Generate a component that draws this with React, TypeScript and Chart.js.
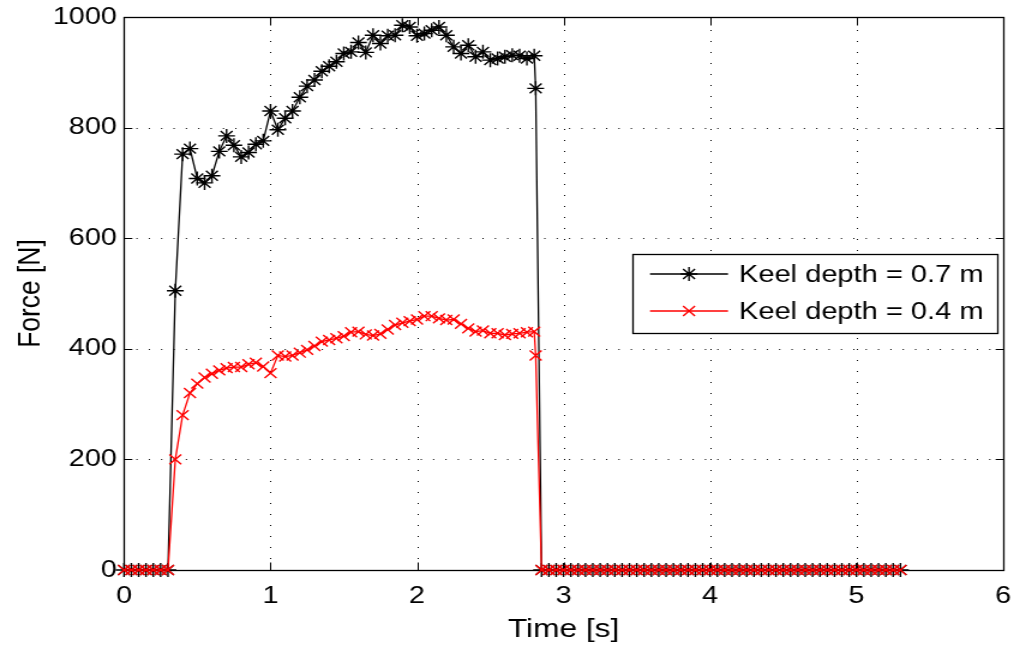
import { useEffect, useRef } from 'react';
import { Chart, registerables } from 'chart.js';

Chart.register(...registerables);

// ---- data ----
const timeS = [
  0, 0.05, 0.1, 0.15, 0.2, 0.25, 0.3, 0.35, 0.4, 0.45, 0.5, 0.55, 0.6, 0.65, 0.7, 0.75, 0.8, 0.85, 0.9, 0.95,
  1, 1.05, 1.1, 1.15, 1.2, 1.25, 1.3, 1.35, 1.4, 1.45, 1.5, 1.55, 1.6, 1.65, 1.7, 1.75, 1.8, 1.85, 1.9, 1.95,
  2, 2.05, 2.1, 2.15, 2.2, 2.25, 2.3, 2.35, 2.4, 2.45, 2.5, 2.55, 2.6, 2.65, 2.7, 2.75, 2.8, 2.81,
  2.85, 2.9, 2.95, 3, 3.05, 3.1, 3.15, 3.2, 3.25, 3.3, 3.35, 3.4, 3.45, 3.5, 3.55, 3.6, 3.65, 3.7, 3.75, 3.8, 3.85, 3.9, 3.95,
  4, 4.05, 4.1, 4.15, 4.2, 4.25, 4.3, 4.35, 4.4, 4.45, 4.5, 4.55, 4.6, 4.65, 4.7, 4.75, 4.8, 4.85, 4.9, 4.95,
  5, 5.05, 5.1, 5.15, 5.2, 5.25, 5.3,
];

const keelDepth07 = [
  0, 0, 0, 0, 0, 0, 0,
  505, 752, 762, 708, 700, 713, 757, 785, 768, 747, 755, 770, 776,
  830, 796, 817, 830, 855, 875, 886, 902, 911, 919, 934, 937, 954, 936, 967, 952, 966, 967, 985, 982,
  966, 970, 976, 982, 967, 946, 934, 949, 928, 937, 922, 925, 928, 931, 930, 925, 930,
  871,
  0, 0, 0, 0, 0, 0, 0, 0, 0, 0, 0, 0, 0, 0, 0, 0, 0, 0, 0, 0, 0, 0, 0, 0, 0,
  0, 0, 0, 0, 0, 0, 0, 0, 0, 0, 0, 0, 0, 0, 0, 0, 0, 0, 0, 0, 0, 0, 0, 0, 0,
];

const keelDepth04 = [
  0, 0, 0, 0, 0, 0, 0,
  200, 280, 320, 337, 348, 355, 361, 365, 367, 367, 372, 375, 368,
  356, 388, 386, 388, 393, 398, 405, 413, 416, 419, 423, 430, 431, 426, 424, 427, 435, 443, 447, 450,
  453, 459, 459, 455, 452, 453, 445, 437, 431, 433, 428, 428, 425, 427, 428, 430, 431,
  388,
  0, 0, 0, 0, 0, 0, 0, 0, 0, 0, 0, 0, 0, 0, 0, 0, 0, 0, 0, 0, 0, 0, 0, 0, 0,
  0, 0, 0, 0, 0, 0, 0, 0, 0, 0, 0, 0, 0, 0, 0, 0, 0, 0, 0, 0, 0, 0, 0, 0, 0,
];

const seriesLabels = ['Keel depth = 0.7 m', 'Keel depth = 0.4 m'];
const seriesColors = ['#000000', '#ff0000'];
const seriesMarkers = ['star', 'crossRot'];
const xTitle = 'Time [s]';
const yTitle = 'Force [N]';
const xRange = [0, 6];
const yRange = [0, 1000];

// ---- layout (internal canvas px; canvas is stretched horizontally like the reference) ----
const CSS_W = 1020;
const CSS_H = 650;
const STRETCH = 1.2;
const W = Math.round(CSS_W / STRETCH);
const H = CSS_H;
const FONT = '"Liberation Sans", Arial, Helvetica, sans-serif';
const FS_TICK = 24;
const FS_LEG = 24.2;
const FS_TITLE = 26.4;
const MARK_R = 7;
const LINE_W = 1.3;
const MARK_W = 1.4;

const matlabPlugin = {
  id: 'matlabAxes',
  beforeDatasetsDraw(chart: any) {
    const { ctx, chartArea: a, scales } = chart;
    const xs = scales.x;
    const ys = scales.y;
    ctx.save();
    ctx.strokeStyle = '#000';
    ctx.lineWidth = 1;
    // dotted grid
    ctx.setLineDash([1, 10]);
    xs.ticks.forEach((t: any) => {
      const px = Math.round(xs.getPixelForValue(t.value)) + 0.5;
      if (px <= a.left + 1 || px >= a.right - 1) return;
      ctx.beginPath();
      ctx.moveTo(px, a.bottom);
      ctx.lineTo(px, a.top);
      ctx.stroke();
    });
    ctx.setLineDash([1, 9.3]);
    ys.ticks.forEach((t: any) => {
      const py = Math.round(ys.getPixelForValue(t.value)) + 0.5;
      if (py <= a.top + 1 || py >= a.bottom - 1) return;
      ctx.beginPath();
      ctx.moveTo(a.left, py);
      ctx.lineTo(a.right, py);
      ctx.stroke();
    });
    ctx.setLineDash([]);
    // box
    const l = Math.round(a.left) + 0.5;
    const r = Math.round(a.right) + 0.5;
    const tp = Math.round(a.top) + 0.5;
    const b = Math.round(a.bottom) + 0.5;
    ctx.lineWidth = 1.3;
    ctx.strokeRect(l, tp, r - l, b - tp);
    // inner ticks
    const tl = 8;
    ctx.lineWidth = 1;
    xs.ticks.forEach((t: any) => {
      const px = Math.round(xs.getPixelForValue(t.value)) + 0.5;
      ctx.beginPath();
      ctx.moveTo(px, b);
      ctx.lineTo(px, b - tl);
      ctx.moveTo(px, tp);
      ctx.lineTo(px, tp + tl);
      ctx.stroke();
    });
    ys.ticks.forEach((t: any) => {
      const py = Math.round(ys.getPixelForValue(t.value)) + 0.5;
      ctx.beginPath();
      ctx.moveTo(l, py);
      ctx.lineTo(l + tl * 0.85, py);
      ctx.moveTo(r, py);
      ctx.lineTo(r - tl * 0.85, py);
      ctx.stroke();
    });
    ctx.restore();
  },
  afterDraw(chart: any) {
    const { ctx, chartArea: a } = chart;
    ctx.save();
    ctx.fillStyle = '#000';
    ctx.font = `${FS_TITLE}px ${FONT}`;
    // axis titles
    ctx.textAlign = 'center';
    ctx.textBaseline = 'middle';
    ctx.fillText(xTitle, (a.left + a.right) / 2, 630);
    ctx.save();
    ctx.translate(26, (a.top + a.bottom) / 2);
    ctx.rotate(-Math.PI / 2);
    ctx.fillText(yTitle, 0, 0);
    ctx.restore();

    // legend
    ctx.font = `${FS_LEG}px ${FONT}`;
    const bx = 632 / STRETCH;
    const bw = (997 - 632) / STRETCH;
    const by = 254;
    const bh = 79;
    ctx.fillStyle = '#fff';
    ctx.fillRect(bx, by, bw, bh);
    ctx.strokeStyle = '#000';
    ctx.lineWidth = 1.3;
    ctx.strokeRect(Math.round(bx) + 0.5, by + 0.5, Math.round(bw), bh);
    const rows = [274, 311];
    const lx1 = 650 / STRETCH;
    const lx2 = 728 / STRETCH;
    const mx = (lx1 + lx2) / 2;
    const tx = 739 / STRETCH;
    chart.data.datasets.forEach((ds: any, i: number) => {
      const y = rows[i];
      ctx.strokeStyle = ds.borderColor;
      ctx.lineWidth = LINE_W;
      ctx.beginPath();
      ctx.moveTo(lx1, y);
      ctx.lineTo(lx2, y);
      ctx.stroke();
      ctx.strokeStyle = ds.pointBorderColor;
      ctx.lineWidth = MARK_W;
      const r = MARK_R;
      ctx.beginPath();
      if (ds.pointStyle === 'star') {
        ctx.moveTo(mx, y - r); ctx.lineTo(mx, y + r);
        ctx.moveTo(mx - r, y); ctx.lineTo(mx + r, y);
      }
      const d = r * Math.SQRT1_2;
      ctx.moveTo(mx - d, y - d); ctx.lineTo(mx + d, y + d);
      ctx.moveTo(mx - d, y + d); ctx.lineTo(mx + d, y - d);
      ctx.stroke();
      ctx.fillStyle = '#000';
      ctx.textAlign = 'left';
      ctx.textBaseline = 'middle';
      ctx.fillText(ds.label, tx, y + 1);
    });
    ctx.restore();
  },
};

export default function App() {
  const ref = useRef<HTMLCanvasElement | null>(null);

  useEffect(() => {
    const canvas = ref.current;
    if (!canvas) return;
    const seriesValues = [keelDepth07, keelDepth04];
    const datasets = seriesValues.map((vals, i) => ({
      label: seriesLabels[i],
      data: timeS.map((t, j) => ({ x: t, y: vals[j] })),
      borderColor: seriesColors[i],
      backgroundColor: seriesColors[i],
      pointBorderColor: seriesColors[i],
      pointBackgroundColor: seriesColors[i],
      borderWidth: LINE_W,
      pointStyle: seriesMarkers[i],
      pointRadius: MARK_R,
      pointBorderWidth: MARK_W,
      pointHoverRadius: MARK_R,
      tension: 0,
      fill: false,
      clip: false as any,
      order: i === 0 ? 1 : 0,
    }));

    const tickFont = { family: FONT, size: FS_TICK };
    const chart = new Chart(canvas, {
      type: 'line',
      data: { datasets },
      options: {
        responsive: false,
        animation: false,
        devicePixelRatio: 1,
        events: [],
        layout: { padding: { left: 0, right: W - 1003 / STRETCH, top: 17, bottom: 0 } },
        plugins: { legend: { display: false }, tooltip: { enabled: false } },
        scales: {
          x: {
            type: 'linear',
            min: xRange[0],
            max: xRange[1],
            ticks: {
              stepSize: 1, font: tickFont, color: '#000', padding: 12, maxRotation: 0, autoSkip: false,
              callback: (v: any) => String(v),
            },
            grid: { display: false, drawTicks: false },
            border: { display: false },
            afterFit: (s: any) => {
              s.height = 80;
              s.paddingLeft = 0;
              s.paddingRight = 0;
            },
          },
          y: {
            type: 'linear',
            min: yRange[0],
            max: yRange[1],
            ticks: { stepSize: 200, font: tickFont, color: '#000', padding: 6, callback: (v: any) => String(v) },
            grid: { display: false, drawTicks: false },
            border: { display: false },
            afterFit: (s: any) => {
              s.width = 124 / STRETCH;
              s.paddingTop = 0;
              s.paddingBottom = 0;
            },
          },
        },
      } as any,
      plugins: [matlabPlugin],
    });
    return () => chart.destroy();
  }, []);

  return (
    <div style={{ position: 'fixed', left: 0, top: 0, width: CSS_W, height: CSS_H, background: '#fff' }}>
      <canvas
        ref={ref}
        width={W}
        height={H}
        style={{ width: `${CSS_W}px`, height: `${CSS_H}px`, display: 'block' }}
      />
    </div>
  );
}
